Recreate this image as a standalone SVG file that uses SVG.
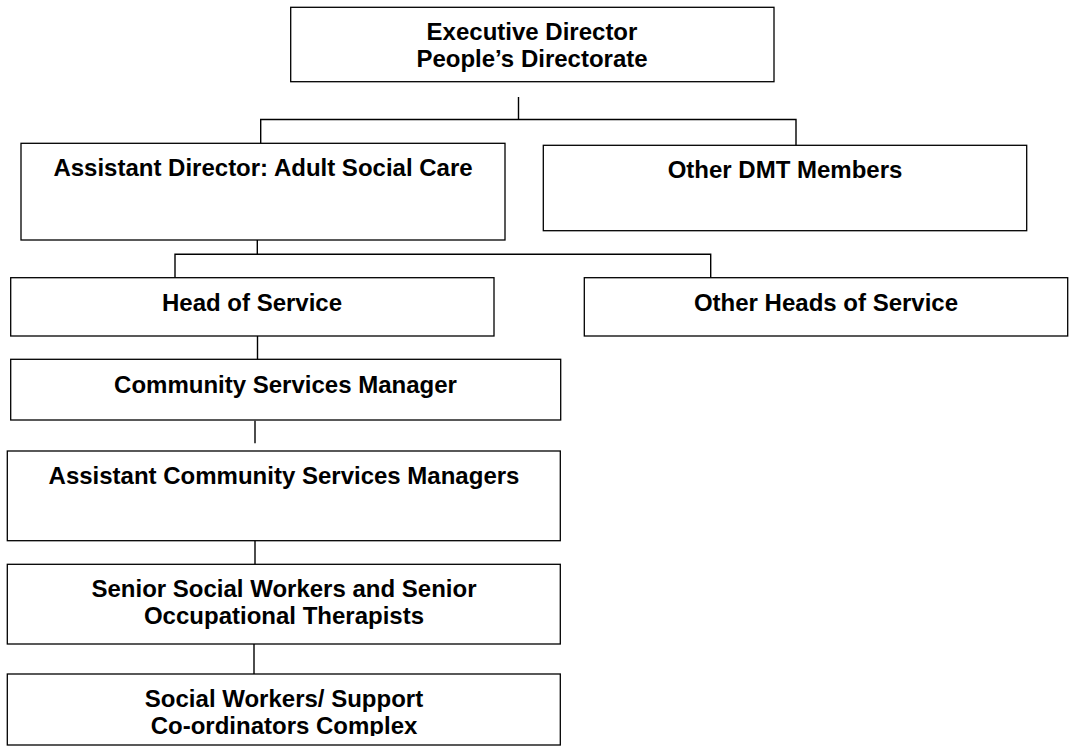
<svg xmlns="http://www.w3.org/2000/svg" width="1072" height="753" viewBox="0 0 1072 753">
<style>
.box{fill:#fff;stroke:#000;stroke-width:1.3}
.t{font-family:"Liberation Sans",Arial,sans-serif;font-weight:bold;font-size:24px;fill:#000;text-anchor:middle}
.c{fill:none;stroke:#000;stroke-width:1.4}
</style>
<defs>
<clipPath id="swclip"><rect x="0" y="674" width="600" height="62"/></clipPath>
</defs>
<rect width="1072" height="753" fill="#fff"/>
<g id="connectors">
<path class="c" d="M518.5,97 V119.5 M260.7,143.3 V119.5 H796 V145.3"/>
<path class="c" d="M257.3,231.7 V254.3 M175,277.7 V254.3 H710.7 V277.7"/>
<path class="c" d="M257.5,336 V359.3"/>
<path class="c" d="M255,420.7 V443.3"/>
<path class="c" d="M255,540.7 V564.3"/>
<path class="c" d="M254,644 V674"/>
</g>
<g id="exec">
<rect class="box" x="290.7" y="7.3" width="483.3" height="74.4"/>
<text class="t" x="532" y="40">Executive Director</text>
<text class="t" x="532" y="67">People’s Directorate</text>
</g>
<g id="adasc">
<rect class="box" x="21" y="143.3" width="484" height="96.7"/>
<text class="t" x="263" y="175.5">Assistant Director: Adult Social Care</text>
</g>
<g id="dmt">
<rect class="box" x="543.3" y="145.3" width="483.4" height="85.4"/>
<text class="t" x="785" y="177.5">Other DMT Members</text>
</g>
<g id="hos">
<rect class="box" x="10.7" y="277.7" width="483.3" height="58.3"/>
<text class="t" x="252" y="310.5">Head of Service</text>
</g>
<g id="ohos">
<rect class="box" x="584.3" y="277.7" width="483.4" height="58.3"/>
<text class="t" x="826" y="310.5">Other Heads of Service</text>
</g>
<g id="csm">
<rect class="box" x="10.7" y="359.3" width="550" height="60.7"/>
<text class="t" x="285.5" y="392.5">Community Services Manager</text>
</g>
<g id="acsm">
<rect class="box" x="7.3" y="451" width="553" height="89.7"/>
<text class="t" x="284" y="484">Assistant Community Services Managers</text>
</g>
<g id="ssw">
<rect class="box" x="7.3" y="564.3" width="553" height="79.7"/>
<text class="t" x="284" y="597">Senior Social Workers and Senior</text>
<text class="t" x="284" y="624">Occupational Therapists</text>
</g>
<g id="sw">
<rect class="box" x="7.3" y="674" width="553" height="71"/>
<g clip-path="url(#swclip)">
<text class="t" x="284" y="707">Social Workers/ Support</text>
<text class="t" x="284" y="734">Co-ordinators Complex</text>
</g>
</g>
</svg>
